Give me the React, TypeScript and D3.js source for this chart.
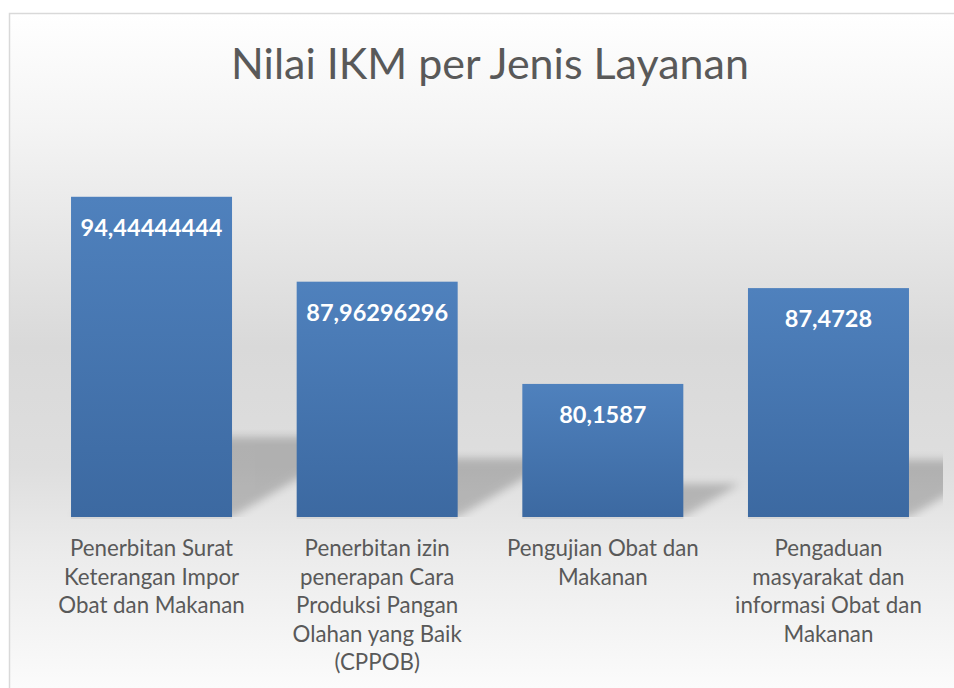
import React from "react";
import * as d3 from "d3";

const title = "Nilai IKM per Jenis Layanan";
const categories = [
  "Penerbitan Surat Keterangan Impor Obat dan Makanan",
  "Penerbitan izin penerapan Cara Produksi Pangan Olahan yang Baik (CPPOB)",
  "Pengujian Obat dan Makanan",
  "Pengaduan masyarakat dan informasi Obat dan Makanan",
];
const categoryLines = [
  ["Penerbitan Surat", "Keterangan Impor", "Obat dan Makanan"],
  ["Penerbitan izin", "penerapan Cara", "Produksi Pangan", "Olahan yang Baik", "(CPPOB)"],
  ["Pengujian Obat dan", "Makanan"],
  ["Pengaduan", "masyarakat dan", "informasi Obat dan", "Makanan"],
];
const values = [94.44444444, 87.96296296, 80.1587, 87.4728];
const valueLabels = ["94,44444444", "87,96296296", "80,1587", "87,4728"];
const yDomain = [70, 100];

const W = 954;
const H = 688;
const plot = { left: 38.7, right: 941.3, top: 124, bottom: 517 };
const FONT = "Lato, 'Open Sans', sans-serif";

export default function App() {
  const x = d3
    .scaleBand<string>()
    .domain(categories)
    .range([plot.left, plot.right])
    .paddingInner(0.2865)
    .paddingOuter(0.14325);
  const y = d3.scaleLinear().domain(yDomain).range([plot.bottom, plot.top]);
  const base = y(yDomain[0]);
  const bw = x.bandwidth();

  const shadowPath = (v: number, c: string) => {
    const x0 = x(c)!;
    const x1 = x0 + bw;
    const h = (base - y(v)) * 0.25;
    const sk = h * 1.7;
    const p = d3.path();
    p.moveTo(x0, base);
    p.lineTo(x1, base);
    p.lineTo(x1 + sk, base - h);
    p.lineTo(x0 + sk, base - h);
    p.closePath();
    return p.toString();
  };

  return (
    <svg
      width={W}
      height={H}
      style={{ position: "absolute", left: 0, top: 0 }}
      xmlns="http://www.w3.org/2000/svg"
    >
      <defs>
        <linearGradient id="bg" x1="0" y1="0" x2="0" y2="1">
          <stop offset="0" stopColor="#ffffff" />
          <stop offset="0.16" stopColor="#f4f4f4" />
          <stop offset="0.47" stopColor="#d9d9d9" />
          <stop offset="0.64" stopColor="#dedede" />
          <stop offset="0.76" stopColor="#ebebeb" />
          <stop offset="1" stopColor="#ffffff" />
        </linearGradient>
        <linearGradient id="bar" x1="0" y1="0" x2="0" y2="1">
          <stop offset="0" stopColor="#4f81bd" />
          <stop offset="1" stopColor="#3c69a1" />
        </linearGradient>
        <filter id="blur" x="-20%" y="-40%" width="140%" height="180%">
          <feGaussianBlur stdDeviation="4" />
        </filter>
        <clipPath id="plotClip">
          <rect x={plot.left} y={plot.top} width={943 - plot.left} height={base - plot.top} />
        </clipPath>
      </defs>
      <rect x={0} y={0} width={W} height={H} fill="#ffffff" />
      <rect
        x={9.5}
        y={13.5}
        width={W + 20}
        height={H + 20}
        fill="url(#bg)"
        stroke="#d9d9d9"
        strokeWidth={1.5}
      />
      <text
        x={(plot.left + plot.right) / 2}
        y={79}
        textAnchor="middle"
        fontFamily={FONT}
        fontWeight={400}
        fontSize={43}
        fill="#595959"
      >
        {title}
      </text>
      <g clipPath="url(#plotClip)">
        {categories.map((c, i) => (
          <path key={c} d={shadowPath(values[i], c)} fill="#000" opacity={0.2} filter="url(#blur)" />
        ))}
      </g>
      {categories.map((c) => (
        <rect key={c} x={x(c)} y={base} width={bw} height={2} fill="#d0d0d0" opacity={0.7} />
      ))}
      {categories.map((c, i) => (
        <rect
          key={c}
          x={x(c)}
          y={y(values[i])}
          width={bw}
          height={base - y(values[i])}
          fill="url(#bar)"
        />
      ))}
      {categories.map((c, i) => (
        <text
          key={c}
          x={x(c)! + bw / 2}
          y={y(values[i]) + 39}
          textAnchor="middle"
          fontFamily={FONT}
          fontWeight={700}
          fontSize={23.5}
          fill="#ffffff"
        >
          {valueLabels[i]}
        </text>
      ))}
      {categories.map((c, i) => (
        <text
          key={c}
          textAnchor="middle"
          fontFamily={FONT}
          fontSize={22.3}
          fill="#595959"
        >
          {categoryLines[i].map((line, j) => (
            <tspan key={j} x={x(c)! + bw / 2} y={556 + j * 28.5}>
              {line}
            </tspan>
          ))}
        </text>
      ))}
    </svg>
  );
}
